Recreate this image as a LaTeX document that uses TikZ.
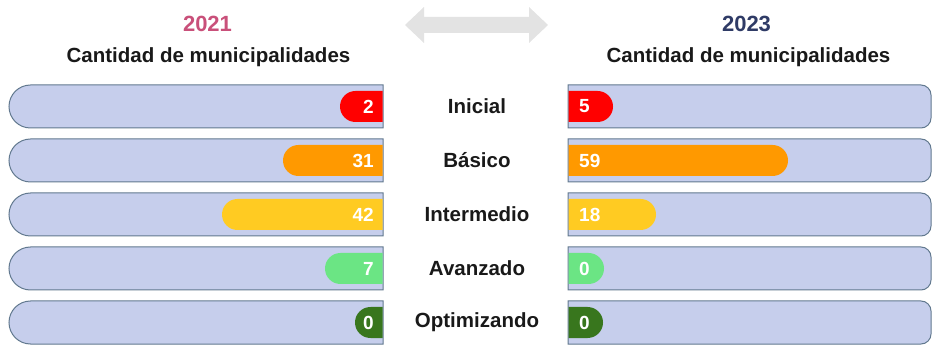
\documentclass[tikz,border=0pt]{standalone}
\usepackage{fontspec}
\setmainfont{Liberation Sans}
\usepackage{xcolor}
\usepackage{tikz}

\definecolor{barfill}{HTML}{C6CEEC}
\definecolor{barline}{HTML}{62798F}
\definecolor{yrpink}{HTML}{C9507A}
\definecolor{yrblue}{HTML}{2F3B66}
\definecolor{arrowgrey}{HTML}{E3E3E3}
\definecolor{ncred}{HTML}{FF0000}
\definecolor{ncorange}{HTML}{FF9900}
\definecolor{ncyellow}{HTML}{FFCB22}
\definecolor{ncgreen}{HTML}{6BE584}
\definecolor{ncdkgreen}{HTML}{38761D}

\tikzset{
  barbox/.style={fill=barfill, draw=barline, line width=1pt},
  lvltext/.style={font=\fontsize{20.5}{24}\selectfont\bfseries, text=black!90},
  headtext/.style={font=\fontsize{20.5}{24}\selectfont\bfseries, text=black!90},
  numtext/.style={font=\fontsize{19}{22}\selectfont\bfseries, text=white, inner sep=0pt}
}

\begin{document}
\begin{tikzpicture}[x=1pt, y=1pt]
            \useasboundingbox (0, 0) rectangle (933, 345);
            % headings
            \node[font=\fontsize{22}{26}\selectfont\bfseries, text=yrpink] (yl) at (207.5, 321) {2021};
            \node[headtext] (hl) at (208.5, 288) {Cantidad de municipalidades};
            \node[font=\fontsize{22}{26}\selectfont\bfseries, text=yrblue] (yr) at (746.5, 321) {2023};
            \node[headtext] (hr) at (748.5, 288) {Cantidad de municipalidades};
            \fill[arrowgrey] (405, 320) -- (424, 338) -- (424, 328) -- (529, 328) -- (529, 338)
              -- (548, 320) -- (529, 302) -- (529, 312) -- (424, 312) -- (424, 302) -- cycle;
            % rows
            \foreach \col/\lab/\y/\la/\lv/\ra/\rv [count=\i] in {
                ncred/Inicial/238.5/340/2/613/5,
                ncorange/Básico/184.5/283/31/788/59,
                ncyellow/Intermedio/130.5/222/42/656/18,
                ncgreen/Avanzado/76.5/325/7/604/0,
                ncdkgreen/Optimizando/22.5/355/0/603/0} {
              \draw[barbox] (383, \y+21.5) -- (30.5, \y+21.5) arc[start angle=90, end angle=270, radius=21.5pt]
                -- (383, \y-21.5) -- cycle;
              \draw[barbox] (568, \y-21.5) -- (921, \y-21.5) arc[start angle=-90, end angle=0, radius=10pt]
                -- (931, \y+11.5) arc[start angle=0, end angle=90, radius=10pt] -- (568, \y+21.5) -- cycle;
              \fill[\col] (382.5, \y-15.5) -- (\la+15.5, \y-15.5) arc[start angle=270, end angle=90, radius=15.5pt]
                -- (382.5, \y+15.5) -- cycle;
              \fill[\col] (568.5, \y-15.5) -- (\ra-15.5, \y-15.5) arc[start angle=-90, end angle=90, radius=15.5pt]
                -- (568.5, \y+15.5) -- cycle;
              \node[numtext, anchor=east] (nl\i) at (374, \y) {\lv};
              \node[numtext, anchor=west] (nr\i) at (579, \y) {\rv};
              \node[lvltext] (lv\i) at (477, \y) {\lab};
            }
          \end{tikzpicture}
\end{document}
